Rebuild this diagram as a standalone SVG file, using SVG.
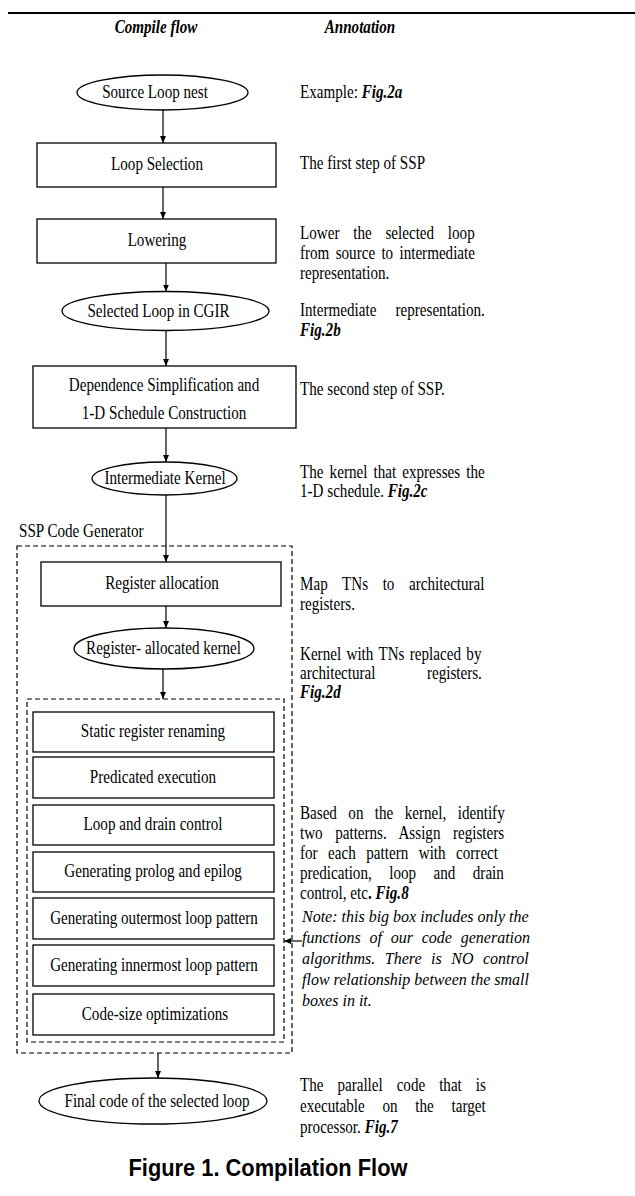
<svg xmlns="http://www.w3.org/2000/svg" width="635" height="1196" viewBox="0 0 635 1196">
<style>
.n{fill:#fff;stroke:#000;stroke-width:1.3}
.d{fill:none;stroke:#000;stroke-width:1.2;stroke-dasharray:5 3}
.t{font-family:"Liberation Serif","Times New Roman",serif;font-size:18px;fill:#000}
.c{text-anchor:middle}
.bi{font-weight:bold;font-style:italic}
.b{font-weight:bold}
.it{font-family:"Liberation Serif","Times New Roman",serif;font-style:italic;font-size:16px;fill:#000}
.e{stroke:#000;stroke-width:1.2;fill:none;marker-end:url(#ah)}
.cap{font-family:"Liberation Sans",Arial,sans-serif;font-weight:bold;font-size:24px;text-anchor:middle;fill:#000}
</style>
<defs>
<marker id="ah" markerUnits="userSpaceOnUse" markerWidth="8" markerHeight="6" refX="7" refY="3" orient="auto">
<path d="M0,0 L7,3 L0,6 z" fill="#000"/>
</marker>
</defs>
<rect width="635" height="1196" fill="#fff"/>
<line x1="8" y1="13" x2="635" y2="13" stroke="#000" stroke-width="2"/>
<g id="headers">
<text class="t bi c" transform="translate(156,33) scale(0.84,1)">Compile flow</text>
<text class="t bi c" transform="translate(360,33) scale(0.84,1)">Annotation</text>
</g>
<g id="ssp-code-generator">
<rect class="d" x="17" y="546" width="275" height="507"/>
<text class="t" transform="translate(19,537) scale(0.84,1)">SSP Code Generator</text>
</g>
<g id="code-generation-functions">
<rect class="d" x="27" y="699" width="257" height="343"/>
</g>
<g id="source-loop-nest">
<ellipse class="n" cx="162.5" cy="92.5" rx="85.5" ry="17.5"/>
<text class="t c" transform="translate(155,98) scale(0.84,1)">Source Loop nest</text>
</g>
<g id="loop-selection">
<rect class="n" x="37" y="143" width="239" height="44"/>
<text class="t c" transform="translate(157,170) scale(0.84,1)">Loop Selection</text>
</g>
<g id="lowering">
<rect class="n" x="37" y="219" width="239" height="44"/>
<text class="t c" transform="translate(157,246) scale(0.84,1)">Lowering</text>
</g>
<g id="selected-loop-cgir">
<ellipse class="n" cx="165.5" cy="311" rx="103.5" ry="19.5"/>
<text class="t c" transform="translate(158.5,317) scale(0.84,1)">Selected Loop in CGIR</text>
</g>
<g id="dependence-simplification">
<rect class="n" x="33" y="366" width="263" height="62"/>
<text class="t c" transform="translate(164,391) scale(0.84,1)">Dependence Simplification and</text>
<text class="t c" transform="translate(164,419) scale(0.84,1)">1-D Schedule Construction</text>
</g>
<g id="intermediate-kernel">
<ellipse class="n" cx="164.5" cy="478.5" rx="72.5" ry="16.5"/>
<text class="t c" transform="translate(165,484) scale(0.84,1)">Intermediate Kernel</text>
</g>
<g id="register-allocation">
<rect class="n" x="41" y="562" width="240" height="44"/>
<text class="t c" transform="translate(162,589) scale(0.84,1)">Register allocation</text>
</g>
<g id="register-allocated-kernel">
<ellipse class="n" cx="164" cy="648.5" rx="90" ry="20.5"/>
<text class="t c" transform="translate(163.5,654) scale(0.84,1)">Register- allocated kernel</text>
</g>
<g id="static-register-renaming">
<rect class="n" x="33" y="712" width="241" height="40"/>
<text class="t c" transform="translate(153,737) scale(0.84,1)">Static register renaming</text>
</g>
<g id="predicated-execution">
<rect class="n" x="33" y="757" width="241" height="41"/>
<text class="t c" transform="translate(153,783) scale(0.84,1)">Predicated execution</text>
</g>
<g id="loop-drain-control">
<rect class="n" x="33" y="805" width="241" height="40"/>
<text class="t c" transform="translate(153,830) scale(0.84,1)">Loop and drain control</text>
</g>
<g id="prolog-epilog">
<rect class="n" x="33" y="852" width="241" height="40"/>
<text class="t c" transform="translate(153,877) scale(0.84,1)">Generating prolog and epilog</text>
</g>
<g id="outermost-loop-pattern">
<rect class="n" x="33" y="898" width="241" height="41"/>
<text class="t c" transform="translate(154,924) scale(0.84,1)">Generating outermost loop pattern</text>
</g>
<g id="innermost-loop-pattern">
<rect class="n" x="33" y="945" width="241" height="41"/>
<text class="t c" transform="translate(154,971) scale(0.84,1)">Generating innermost loop pattern</text>
</g>
<g id="code-size-optimizations">
<rect class="n" x="33" y="994" width="241" height="41"/>
<text class="t c" transform="translate(155,1020) scale(0.84,1)">Code-size optimizations</text>
</g>
<g id="final-code">
<ellipse class="n" cx="153" cy="1101" rx="114" ry="23"/>
<text class="t c" transform="translate(157,1107) scale(0.84,1)">Final code of the selected loop</text>
</g>
<g id="connectors">
<line class="e" x1="163" y1="110" x2="163" y2="143"/>
<line class="e" x1="163" y1="187" x2="163" y2="219"/>
<line class="e" x1="166" y1="263" x2="166" y2="291.5"/>
<line class="e" x1="166" y1="330.5" x2="166" y2="366"/>
<line class="e" x1="166" y1="428" x2="166" y2="462"/>
<line class="e" x1="166" y1="495" x2="166" y2="562"/>
<line class="e" x1="166" y1="606" x2="166" y2="628"/>
<line class="e" x1="163" y1="669" x2="163" y2="699"/>
<line class="e" x1="158" y1="1053" x2="158" y2="1078"/>
<line class="e" x1="302" y1="941" x2="284" y2="941"/>
</g>
<g id="annotations">
<text class="t" transform="translate(300,98) scale(0.84,1)">Example: <tspan class="bi">Fig.2a</tspan></text>
<text class="t" transform="translate(300,169) scale(0.84,1)">The first step of SSP</text>
<text class="t" transform="translate(300,239) scale(0.84,1)" style="word-spacing:11.9px">Lower the selected loop</text>
<text class="t" transform="translate(300,259) scale(0.84,1)" style="word-spacing:3px">from source to intermediate</text>
<text class="t" transform="translate(300,279) scale(0.84,1)">representation.</text>
<text class="t" transform="translate(300,316) scale(0.84,1)" style="word-spacing:18.3px">Intermediate representation.</text>
<text class="t bi" transform="translate(300,336) scale(0.84,1)">Fig.2b</text>
<text class="t" transform="translate(300,395) scale(0.84,1)">The second step of SSP.</text>
<text class="t" transform="translate(300,478) scale(0.84,1)" style="word-spacing:2.8px">The kernel that expresses the</text>
<text class="t" transform="translate(300,497) scale(0.84,1)">1-D schedule. <tspan class="bi">Fig.2c</tspan></text>
<text class="t" transform="translate(300,590) scale(0.84,1)" style="word-spacing:12.9px">Map TNs to architectural</text>
<text class="t" transform="translate(300,610) scale(0.84,1)">registers.</text>
<text class="t" transform="translate(300,660) scale(0.84,1)" style="word-spacing:1.9px">Kernel with TNs replaced by</text>
<text class="t" transform="translate(300,679) scale(0.84,1)" style="word-spacing:56.7px">architectural registers.</text>
<text class="t bi" transform="translate(300,698) scale(0.84,1)">Fig.2d</text>
<text class="t" transform="translate(300,819) scale(0.84,1)" style="word-spacing:9.1px">Based on the kernel, identify</text>
<text class="t" transform="translate(300,839) scale(0.84,1)" style="word-spacing:10.4px">two patterns. Assign registers</text>
<text class="t" transform="translate(300,859) scale(0.84,1)" style="word-spacing:8px">for each pattern with correct</text>
<text class="t" transform="translate(300,879) scale(0.84,1)" style="word-spacing:16.3px">predication, loop and drain</text>
<text class="t" transform="translate(300,899) scale(0.84,1)">control, etc<tspan class="b">.</tspan> <tspan class="bi">Fig.8</tspan></text>
<text class="it" x="302" y="922">Note: this big box includes only the</text>
<text class="it" x="302" y="943" style="word-spacing:4.8px">functions of our code generation</text>
<text class="it" x="302" y="964" style="word-spacing:5.5px">algorithms. There is NO control</text>
<text class="it" x="302" y="985">flow relationship between the small</text>
<text class="it" x="302" y="1006">boxes in it.</text>
<text class="t" transform="translate(300,1091) scale(0.84,1)" style="word-spacing:12.1px">The parallel code that is</text>
<text class="t" transform="translate(300,1112) scale(0.84,1)" style="word-spacing:16.7px">executable on the target</text>
<text class="t" transform="translate(300,1133) scale(0.84,1)">processor. <tspan class="bi">Fig.7</tspan></text>
</g>
<g id="caption">
<text class="cap" transform="translate(268,1176) scale(0.91,1)">Figure 1. Compilation Flow</text>
</g>
</svg>
